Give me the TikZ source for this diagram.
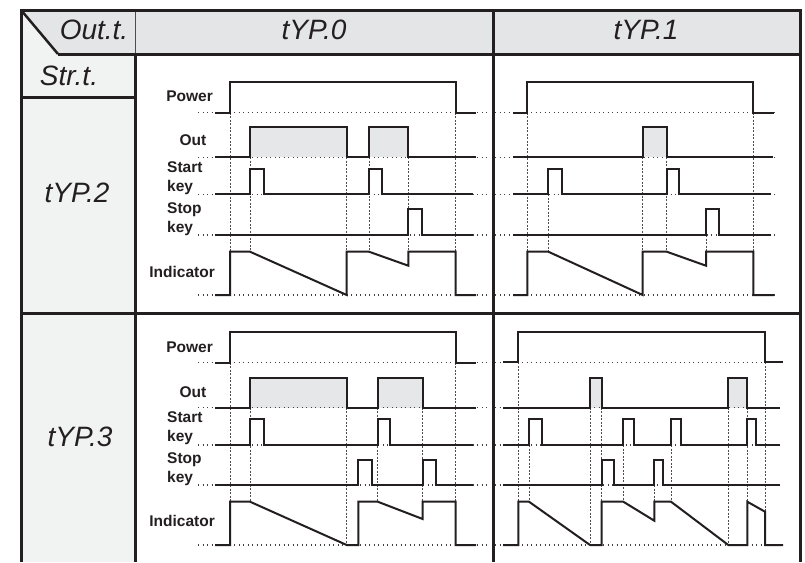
\documentclass[tikz,border=0pt]{standalone}
\usepackage{fontspec}
\setmainfont{Liberation Sans}
\newfontfamily\segfont{Liberation Sans}
\definecolor{ink}{HTML}{231F20}
\definecolor{headfill}{HTML}{E4E5E6}
\definecolor{colfill}{HTML}{F1F2F2}
\definecolor{shade}{HTML}{E6E7E8}
\begin{document}
\begin{tikzpicture}[x=1pt,y=-1pt,
  wave/.style={line width=2pt, draw=ink, line join=miter},
  baseln/.style={line width=1.2pt, draw=ink!85, dash pattern=on 1.2pt off 3.3pt},
  guide/.style={line width=0.8pt, draw=ink!80, dash pattern=on 2pt off 1.5pt},
  frame/.style={line width=3pt, draw=ink},
  thinframe/.style={line width=1pt, draw=ink!80},
  lbl/.style={font=\bfseries\fontsize{15.5}{19}\selectfont, text=ink, inner sep=0pt},
  seg/.style={font=\segfont\itshape\fontsize{28}{28}\selectfont, text=ink, inner sep=0pt},
  outfill/.style={fill=shade}]
\useasboundingbox (0,0) rectangle (805,562);
% fills
\fill[headfill] (21,10) rectangle (800,54);
\fill[colfill] (21,54) rectangle (135,562);
\fill[colfill] (21,10) -- (58,54) -- (21,54) -- cycle;
\fill[white] (135,54) rectangle (800,562);

% ===== top-left panel =====
\fill[outfill] (250,126.7) rectangle (346.7,157.3);
\fill[outfill] (369,126.7) rectangle (408.3,157.3);
\foreach \y in {112.7,157.3,194.3,235,295} \draw[baseln] (198,\y) -- (490,\y);
\draw[guide] (230,112.7) -- (230,251.7);
\draw[guide] (250,157.3) -- (250,251.7);
\draw[guide] (346.7,157.3) -- (346.7,295);
\draw[guide] (369,157.3) -- (369,251.7);
\draw[guide] (408.3,157.3) -- (408.3,265.7);
\draw[guide] (455.7,112.7) -- (455.7,251.7);
\draw[wave] (215,112.7) -- (230,112.7) -- (230,82) -- (455.7,82) -- (455.7,112.7) -- (476,112.7);
\draw[wave] (215,157.3) -- (250,157.3) -- (250,126.7) -- (346.7,126.7) -- (346.7,157.3) -- (369,157.3) -- (369,126.7) -- (408.3,126.7) -- (408.3,157.3) -- (476,157.3);
\draw[wave] (215,194.3) -- (250,194.3) -- (250,169.3) -- (264.3,169.3) -- (264.3,194.3) -- (369,194.3) -- (369,169.3) -- (381.7,169.3) -- (381.7,194.3) -- (473,194.3);
\draw[wave] (215,235) -- (408.3,235) -- (408.3,209.3) -- (421.7,209.3) -- (421.7,235) -- (473,235);
\draw[wave] (215,295) -- (230,295) -- (230,251.7) -- (250,251.7) -- (346.7,295) -- (346.7,251.7) -- (369,251.7) -- (408.3,265.7) -- (408.3,251.7) -- (455.7,251.7) -- (455.7,295) -- (476,295);

% ===== top-right panel =====
\fill[outfill] (642.7,126.7) rectangle (666.7,157.3);
\foreach \y in {112.7,157.3,194.3,235,295} \draw[baseln] (495,\y) -- (776,\y);
\draw[guide] (527.3,112.7) -- (527.3,251.7);
\draw[guide] (548.3,194.3) -- (548.3,251.7);
\draw[guide] (642.7,157.3) -- (642.7,295);
\draw[guide] (666.7,157.3) -- (666.7,251.7);
\draw[guide] (706,235) -- (706,265.7);
\draw[guide] (753.3,112.7) -- (753.3,251.7);
\draw[wave] (513,112.7) -- (527.3,112.7) -- (527.3,82) -- (753.3,82) -- (753.3,112.7) -- (774,112.7);
\draw[wave] (513,157.3) -- (642.7,157.3) -- (642.7,126.7) -- (666.7,126.7) -- (666.7,157.3) -- (773,157.3);
\draw[wave] (513,194.3) -- (548.3,194.3) -- (548.3,169.3) -- (561.7,169.3) -- (561.7,194.3) -- (666.7,194.3) -- (666.7,169.3) -- (678.7,169.3) -- (678.7,194.3) -- (771,194.3);
\draw[wave] (513,235) -- (706,235) -- (706,209.3) -- (719.3,209.3) -- (719.3,235) -- (771,235);
\draw[wave] (513,295) -- (527.3,295) -- (527.3,251.7) -- (548.3,251.7) -- (642.7,295) -- (642.7,251.7) -- (666.7,251.7) -- (706,265.7) -- (706,251.7) -- (753.3,251.7) -- (753.3,295) -- (774,295);

% ===== bottom-left panel =====
\fill[outfill] (250,377.7) rectangle (346.7,407.7);
\fill[outfill] (377.7,377.7) rectangle (422.7,407.7);
\foreach \y in {362.7,407.7,445,485,545} \draw[baseln] (198,\y) -- (490,\y);
\draw[guide] (230,362.7) -- (230,501.7);
\draw[guide] (250,407.7) -- (250,501.7);
\draw[guide] (346.7,407.7) -- (346.7,545);
\draw[guide] (377.7,407.7) -- (377.7,501.7);
\draw[guide] (422.7,407.7) -- (422.7,519);
\draw[guide] (455.7,362.7) -- (455.7,501.7);
\draw[wave] (215,362.7) -- (230,362.7) -- (230,332.3) -- (455.7,332.3) -- (455.7,362.7) -- (476,362.7);
\draw[wave] (215,407.7) -- (250,407.7) -- (250,377.7) -- (346.7,377.7) -- (346.7,407.7) -- (377.7,407.7) -- (377.7,377.7) -- (422.7,377.7) -- (422.7,407.7) -- (476,407.7);
\draw[wave] (215,445) -- (250,445) -- (250,419.3) -- (264.3,419.3) -- (264.3,445) -- (377.7,445) -- (377.7,419.3) -- (390,419.3) -- (390,445) -- (473,445);
\draw[wave] (215,485) -- (358.3,485) -- (358.3,460) -- (371.7,460) -- (371.7,485) -- (422.7,485) -- (422.7,460) -- (435.7,460) -- (435.7,485) -- (473,485);
\draw[wave] (215,545) -- (230,545) -- (230,501.7) -- (250,501.7) -- (346.7,545) -- (358.3,545) -- (358.3,501.7) -- (377.7,501.7) -- (422.7,519) -- (422.7,501.7) -- (455.7,501.7) -- (455.7,545) -- (476,545);

% ===== bottom-right panel =====
\fill[outfill] (590,377.7) rectangle (601.7,407.7);
\fill[outfill] (728.3,377.7) rectangle (747.3,407.7);
\foreach \y in {362.3,407.7,445,485,545} \draw[baseln] (495,\y) -- (782,\y);
\draw[guide] (518.3,362.3) -- (518.3,501.7);
\draw[guide] (529,445) -- (529,501.7);
\draw[guide] (590,407.7) -- (590,545);
\draw[guide] (601.7,407.7) -- (601.7,501.7);
\draw[guide] (623.3,445) -- (623.3,501.7);
\draw[guide] (654.3,485) -- (654.3,520.7);
\draw[guide] (671,445) -- (671,501.7);
\draw[guide] (728.3,407.7) -- (728.3,545);
\draw[guide] (747.3,407.7) -- (747.3,501.7);
\draw[guide] (765,362.3) -- (765,511.7);
\draw[wave] (503,362.3) -- (518.3,362.3) -- (518.3,331.7) -- (765,331.7) -- (765,362.3) -- (783,362.3);
\draw[wave] (503,407.7) -- (590,407.7) -- (590,377.7) -- (601.7,377.7) -- (601.7,407.7) -- (728.3,407.7) -- (728.3,377.7) -- (747.3,377.7) -- (747.3,407.7) -- (780,407.7);
\draw[wave] (503,445) -- (529,445) -- (529,419.3) -- (541.7,419.3) -- (541.7,445) -- (623.3,445) -- (623.3,419.3) -- (634.3,419.3) -- (634.3,445) -- (671,445) -- (671,419.3) -- (681,419.3) -- (681,445) -- (747.3,445) -- (747.3,419.3) -- (756,419.3) -- (756,445) -- (780,445);
\draw[wave] (503,485) -- (601.7,485) -- (601.7,460) -- (614,460) -- (614,485) -- (654.3,485) -- (654.3,460) -- (663.3,460) -- (663.3,485) -- (780,485);
\draw[wave] (503,545) -- (518.3,545) -- (518.3,501.7) -- (529,501.7) -- (590,545) -- (601.7,545) -- (601.7,501.7) -- (623.3,501.7) -- (654.3,520.7) -- (654.3,501.7) -- (671,501.7) -- (728.3,545) -- (747.3,545) -- (747.3,501.7) -- (765,511.7) -- (765,545) -- (783,545);

% ===== frame =====
\draw[thinframe] (135,10) -- (135,54);
\draw[frame] (19.5,10) -- (801.5,10);
\draw[frame] (21,10) -- (21,562);
\draw[frame] (800,10) -- (800,562);
\draw[frame] (58,54) -- (800,54);
\draw[frame, line width=2.5pt] (21,10) -- (58,54);
\draw[frame] (135,54) -- (135,562);
\draw[frame] (493,10) -- (493,562);
\draw[frame] (21,97) -- (135,97);
\draw[frame] (21,313) -- (800,313);

% ===== header / row texts =====
\node[seg] (outt) at (94,30) {Out.t.};
\node[seg] (typ0) at (314,30) {tYP.0};
\node[seg] (typ1) at (646,30) {tYP.1};
\node[seg] (strt) at (69,76) {Str.t.};
\node[seg] (typ2) at (77,193) {tYP.2};
\node[seg] (typ3) at (80,437) {tYP.3};

% ===== signal labels =====
\node[lbl, anchor=east] (p1) at (213,96) {Power};
\node[lbl] (o1) at (193,140) {Out};
\node[lbl, anchor=west, align=left] (s1) at (167,178) {Start\\key};
\node[lbl, anchor=west, align=left] (t1) at (167,219) {Stop\\key};
\node[lbl, anchor=east] (i1) at (215,272) {Indicator};
\node[lbl, anchor=east] (p2) at (213,347) {Power};
\node[lbl] (o2) at (193,392) {Out};
\node[lbl, anchor=west, align=left] (s2) at (167,428) {Start\\key};
\node[lbl, anchor=west, align=left] (t2) at (167,469) {Stop\\key};
\node[lbl, anchor=east] (i2) at (215,521) {Indicator};
\end{tikzpicture}
\end{document}
